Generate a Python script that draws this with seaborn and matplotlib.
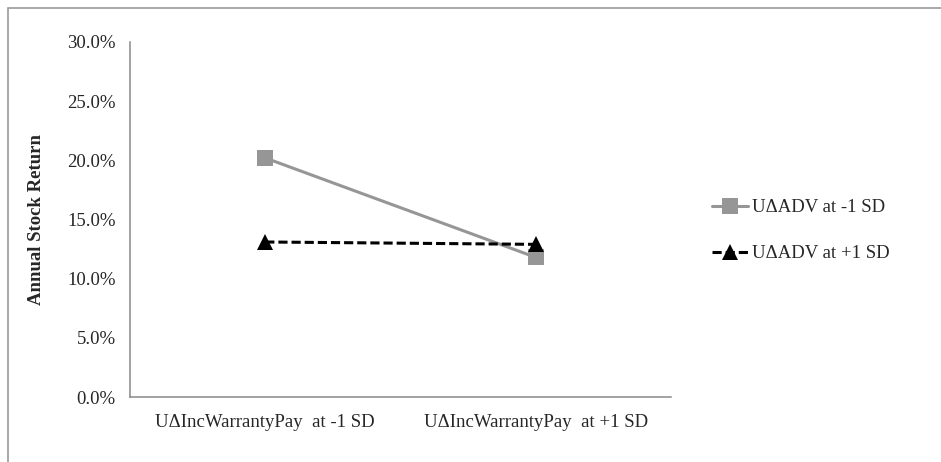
import seaborn as sns
import pandas as pd
import matplotlib.pyplot as plt
from matplotlib.patches import Rectangle
from matplotlib.ticker import FuncFormatter

sns.set_style("white")
plt.rcParams['font.family'] = ['Liberation Serif', 'DejaVu Serif']

categories = ["U\u0394IncWarrantyPay  at -1 SD", "U\u0394IncWarrantyPay  at +1 SD"]
series = ["U\u0394ADV at -1 SD", "U\u0394ADV at +1 SD"]
low_adv = [20.2, 11.8]
high_adv = [13.1, 12.9]

df = pd.DataFrame({
    "Condition": categories * 2,
    "Return": low_adv + high_adv,
    "Series": [series[0]] * 2 + [series[1]] * 2,
})

fig = plt.figure(figsize=(9.41, 4.62), dpi=100)
ax = fig.add_axes([130 / 941, 1 - 397 / 462, 541 / 941, 355 / 462])

sns.lineplot(data=df, x="Condition", y="Return", hue="Series", style="Series",
             palette={series[0]: "#969696", series[1]: "#000000"},
             markers={series[0]: "s", series[1]: "^"},
             dashes={series[0]: "", series[1]: (3, 1.3)},
             markersize=11.5, markeredgewidth=0, linewidth=2.2,
             sort=False, ax=ax)

ax.set_xlim(-0.5, 1.5)
ax.set_ylim(0, 30)
ax.set_yticks(range(0, 31, 5))
ax.yaxis.set_major_formatter(FuncFormatter(lambda v, p: f"{v:.1f}%"))
ax.set_xticks([-0.5, 0.5, 1.5], minor=True)
ax.tick_params(axis="x", which="major", length=0, pad=12, labelsize=13.5)
ax.tick_params(axis="x", which="minor", length=3, width=1.1, color="#898989", direction="out")
ax.tick_params(axis="y", length=4.3, width=1.1, color="#898989", direction="out", pad=6, labelsize=13.5)
for s in ["top", "right"]:
    ax.spines[s].set_visible(False)
for s in ["left", "bottom"]:
    ax.spines[s].set_color("#898989")
    ax.spines[s].set_linewidth(1.1)

ax.set_xlabel("")
ax.set_ylabel("Annual Stock Return", fontsize=13.5, fontweight="bold")
ax.yaxis.set_label_coords(-0.158, 0.5)

ax.legend(loc="upper left", bbox_to_anchor=(712 / 941, 1 - 199 / 462),
          bbox_transform=fig.transFigure, frameon=False, fontsize=13.5,
          borderpad=0, borderaxespad=0, handlelength=1.9, handletextpad=0.25,
          labelspacing=1.55)

fig.patches.append(Rectangle((8 / 941, -0.1), 1.2, 1 - 8.5 / 462 + 0.1,
                             transform=fig.transFigure, fill=False,
                             edgecolor="#9a9a9a", linewidth=1.2))

fig.savefig("out.png", dpi=100)
